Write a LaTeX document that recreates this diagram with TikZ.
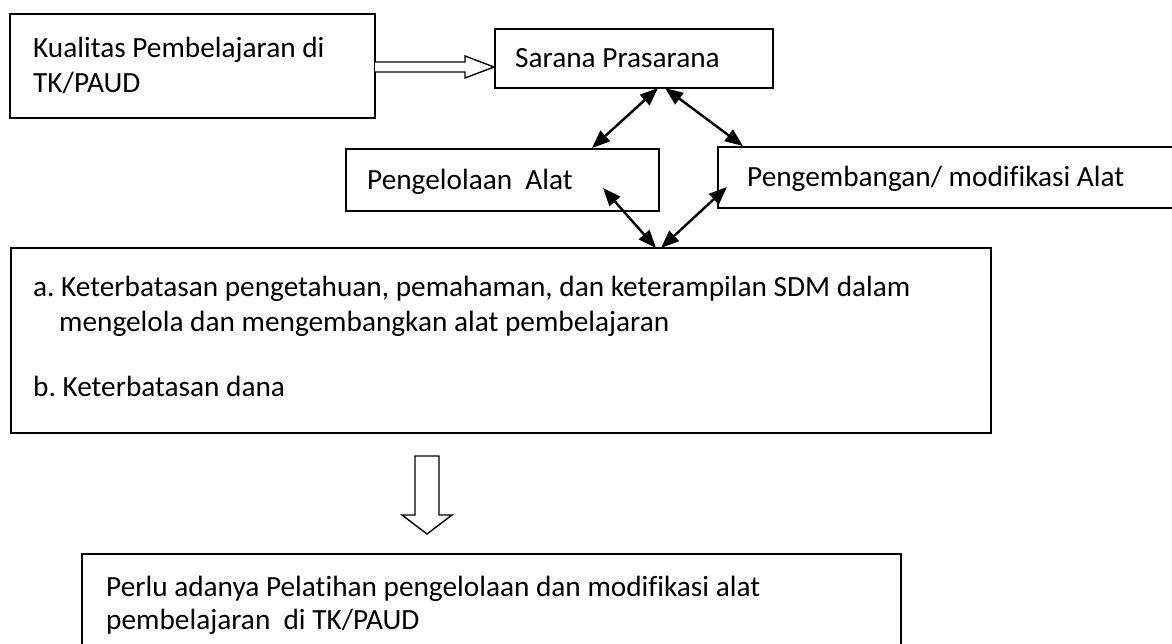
\documentclass[tikz,border=0pt]{standalone}
\usepackage{fontspec}
\setmainfont{Carlito}[Ligatures={NoCommon}]
\usetikzlibrary{arrows.meta,calc}
\frenchspacing
\begin{document}
\begin{tikzpicture}[x=1pt,y=-1pt,
  box/.style={draw, line width=1.6pt, inner sep=0pt, rectangle},
  txt/.style={anchor=base west, inner sep=0pt, font=\fontsize{29.3}{34}\selectfont},
  dblarrow/.style={line width=2.4pt, {Triangle[length=18pt,width=14pt]}-{Triangle[length=18pt,width=14pt]}},
  hollow/.style={draw, line width=1.4pt, fill=white, line join=miter}]
\useasboundingbox (0,0) rectangle (1172,644);
\clip (0,0) rectangle (1172,644);
% boxes
\node[box, minimum width=365pt, minimum height=104pt] (kual) at (192.5,66) {};
\node[box, minimum width=278pt, minimum height=59pt] (sarana) at (634,58.5) {};
\node[box, minimum width=313pt, minimum height=62pt] (pengel) at (502.5,180) {};
\node[box, minimum width=467pt, minimum height=61pt] (pengem) at (951.5,177.5) {};
\node[box, minimum width=980pt, minimum height=185pt] (big) at (501,340.5) {};
\node[box, minimum width=819pt, minimum height=116pt] (perlu) at (491.5,612) {};
% texts
\node[txt] (t1) at (33,57.5) {Kualitas Pembelajaran di};
\node[txt] (t2) at (33,92.5) {TK/PAUD};
\node[txt] (t3) at (515,68) {Sarana Prasarana};
\node[txt] (t4) at (367,189.5) {Pengelolaan\ \ Alat};
\node[txt] (t5) at (747,187) {Pengembangan/ modifikasi Alat};
\node[txt] (t6) at (33,297) {a. Keterbatasan pengetahuan, pemahaman, dan keterampilan SDM dalam};
\node[txt] (t7) at (59,331) {mengelola dan mengembangkan alat pembelajaran};
\node[txt] (t8) at (33,396) {b. Keterbatasan dana};
\node[txt] (t9) at (106,596) {Perlu adanya Pelatihan pengelolaan dan modifikasi alat};
\node[txt] (t10) at (106,629) {pembelajaran\ \ di TK/PAUD};
% hollow right arrow kual -> sarana
\coordinate (hs) at (375,67);
\coordinate (he) at (494,67);
\draw[hollow] ($(hs)+(0,-5)$) -- ($(he)+(-29,-5)$) -- ($(he)+(-29,-11)$) -- (he)
  -- ($(he)+(-29,11)$) -- ($(he)+(-29,5)$) -- ($(hs)+(0,5)$);
% hollow down arrow big -> perlu
\coordinate (ds) at (427,456);
\coordinate (de) at (427,534);
\draw[hollow] ($(ds)+(-12,0)$) -- ($(de)+(-12,-19)$) -- ($(de)+(-25,-19)$) -- (de)
  -- ($(de)+(25,-19)$) -- ($(de)+(12,-19)$) -- ($(ds)+(12,0)$) -- cycle;
% double arrows
\coordinate (a1) at (658,88);
\coordinate (a2) at (592,148);
\coordinate (b1) at (665,88);
\coordinate (b2) at (743,146);
\coordinate (c1) at (603,188);
\coordinate (c2) at (656,248);
\coordinate (d1) at (727,187);
\coordinate (d2) at (661,248);
\draw[dblarrow] (a1) -- (a2);
\draw[dblarrow] (b1) -- (b2);
\draw[dblarrow] (c1) -- (c2);
\draw[dblarrow] (d1) -- (d2);
\end{tikzpicture}
\end{document}
